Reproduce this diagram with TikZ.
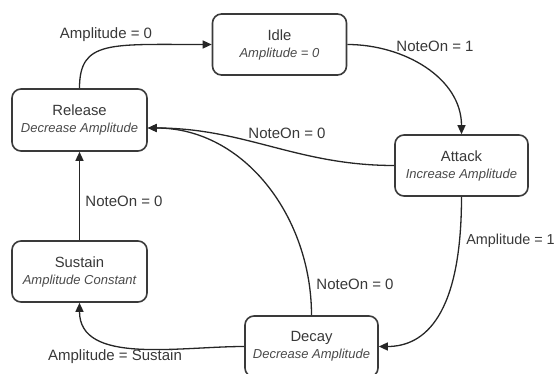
\documentclass[tikz,border=0pt]{standalone}
\usepackage{fontspec}
\setmainfont{Liberation Sans}
\usetikzlibrary{arrows.meta}
\definecolor{boxline}{HTML}{3A3A3A}
\definecolor{txt}{HTML}{383838}
\definecolor{subtxt}{HTML}{4A4A4A}
\newcommand\sttitle[1]{{\fontsize{14.8}{17}\selectfont #1}}
\newcommand\stsub[1]{{\fontsize{13}{17}\selectfont\itshape\color{subtxt}#1}}
\begin{document}
\begin{tikzpicture}[x=1pt,y=-1pt,
  state/.style={draw=boxline, line width=1.6pt, rounded corners=9pt, fill=white,
    minimum width=134pt, minimum height=61pt, align=center, text=txt, inner sep=0pt,
    font=\fontsize{14.8}{17}\selectfont},
  lbl/.style={text=txt, font=\fontsize{15}{17}\selectfont, inner sep=0pt},
  trans/.style={line width=1.3pt, draw=black!85, -{Triangle[length=9pt,width=8pt]}}]
\useasboundingbox (0,0) rectangle (557,374);
\node[state] (idle) at (279.5,44.5) {\sttitle{Idle}\\\stsub{Amplitude = 0}};
\node[state, minimum width=135pt, minimum height=62pt] (release) at (79.5,120) {\sttitle{Release}\\\stsub{Decrease Amplitude}};
\node[state, minimum width=133pt] (attack) at (461.5,165.5) {\sttitle{Attack}\\\stsub{Increase Amplitude}};
\node[state, minimum width=135pt] (sustain) at (79.5,271.5) {\sttitle{Sustain}\\\stsub{Amplitude Constant}};
\node[state, minimum width=133pt] (decay) at (311.5,346.5) {\sttitle{Decay}\\\stsub{Decrease Amplitude}};
\coordinate (relin) at ([yshift=-8pt]release.east);
% transitions
\draw[trans] (release.north) .. controls (79.5,40) and (110,44.5) .. (idle.west);
\draw[trans] (idle.east) .. controls (404,44.5) and (461.5,78) .. (attack.north);
\draw[trans] (attack.west) .. controls (297,165.5) and (245,128) .. (relin);
\draw[trans] (decay.north) .. controls (311.5,218) and (245,128) .. (relin);
\draw[trans] (attack.south) .. controls (461.5,315) and (425,346.5) .. (decay.east);
\draw[trans] (decay.west) .. controls (178,346.5) and (79.5,365) .. (sustain.south);
\draw[trans] (sustain.north) -- (release.south);
% labels
\node[lbl] (l1) at (106,35) {Amplitude = 0};
\node[lbl] (l2) at (435,46) {NoteOn = 1};
\node[lbl] (l3) at (287,133) {NoteOn = 0};
\node[lbl] (l4) at (355,284) {NoteOn = 0};
\node[lbl, font=\fontsize{14.4}{17}\selectfont] (l5) at (510.5,241) {Amplitude = 1};
\node[lbl] (l6) at (115,357) {Amplitude = Sustain};
\node[lbl] (l7) at (124,201) {NoteOn = 0};
\end{tikzpicture}
\end{document}
